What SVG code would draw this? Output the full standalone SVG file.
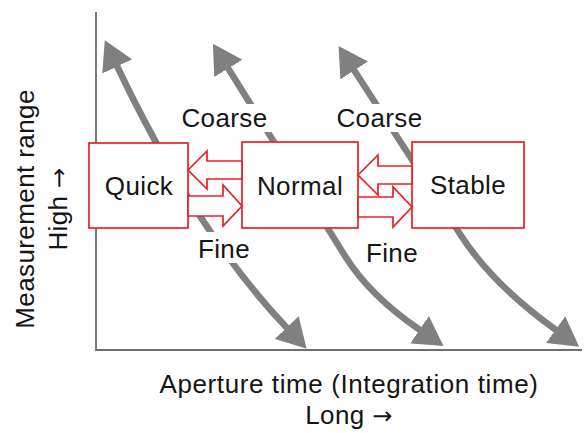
<svg xmlns="http://www.w3.org/2000/svg" width="584" height="433" viewBox="0 0 584 433">
  <style>
    .txt { font-family: "Liberation Sans", Arial, sans-serif; font-size: 26px; fill: #151515; letter-spacing: 0.4px; }
    .arr { font-family: "DejaVu Sans", sans-serif; font-size: 24px; }
    .mid { text-anchor: middle; }
    .box { fill: #ffffff; stroke: #e8202a; stroke-width: 1.7; }
    .blk { fill: #ffffff; stroke: #e8202a; stroke-width: 1.7; stroke-linejoin: miter; }
    .trend { fill: none; stroke: #808080; stroke-width: 6.5; marker-start: url(#head); marker-end: url(#head); }
    .axis { stroke: #6e6e6e; stroke-width: 1.8; fill: none; }
    .bg { fill: #ffffff; }
  </style>
  <defs>
    <marker id="head" viewBox="0 0 29 33" refX="0.5" refY="16.5" markerWidth="29" markerHeight="33" markerUnits="userSpaceOnUse" orient="auto-start-reverse">
      <path d="M0,0 L29,16.5 L0,33 z" fill="#808080"/>
    </marker>
  </defs>
  <rect width="584" height="433" fill="#ffffff"/>

  <g id="axes">
    <path class="axis" d="M96,12 L96,350 L582,350"/>
    <text class="txt mid" transform="translate(34,209) rotate(-90)">Measurement range</text>
    <text class="txt mid" transform="translate(67,209) rotate(-90)">High <tspan class="arr">→</tspan></text>
    <text class="txt mid" x="349" y="393" style="letter-spacing:0.6px">Aperture time (Integration time)</text>
    <text class="txt mid" x="349" y="424">Long <tspan class="arr">→</tspan></text>
  </g>

  <g id="connectors">
    <path class="trend" d="M117,66 Q196.5,233 287,328"/>
    <path class="trend" d="M228,68 L345,256 Q370,296 420,330"/>
    <path class="trend" d="M354,70 L460,234 Q492,284 556,330"/>
    <rect class="bg" x="178" y="104" width="93" height="28"/>
    <rect class="bg" x="333" y="104" width="93" height="28"/>
    <rect class="bg" x="195" y="232" width="58" height="31"/>
    <rect class="bg" x="364" y="236" width="56" height="31"/>
    <text class="txt mid" x="224.5" y="127">Coarse</text>
    <text class="txt mid" x="379.5" y="127">Coarse</text>
    <text class="txt mid" x="224" y="258">Fine</text>
    <text class="txt mid" x="392" y="262">Fine</text>
  </g>

  <g id="node-quick">
    <rect class="box" x="89" y="143" width="99" height="85"/>
    <text class="txt mid" x="139" y="195">Quick</text>
  </g>
  <g id="node-normal">
    <rect class="box" x="242" y="142" width="116" height="86"/>
    <text class="txt mid" x="300" y="195">Normal</text>
  </g>
  <g id="node-stable">
    <rect class="box" x="412" y="142" width="112" height="86"/>
    <text class="txt mid" x="468" y="194">Stable</text>
  </g>

  <g id="transitions">
    <polygon class="blk" points="188,170 207,151 207,161 242,161 242,179 207,179 207,189"/>
    <polygon class="blk" points="188,196 223,196 223,185 242,206 223,226 223,216 188,216"/>
    <polygon class="blk" points="358,175 378,155 378,166 412,166 412,184 378,184 378,195"/>
    <polygon class="blk" points="358,197 393,197 393,187 412,207 393,227 393,217 358,217"/>
  </g>
</svg>
